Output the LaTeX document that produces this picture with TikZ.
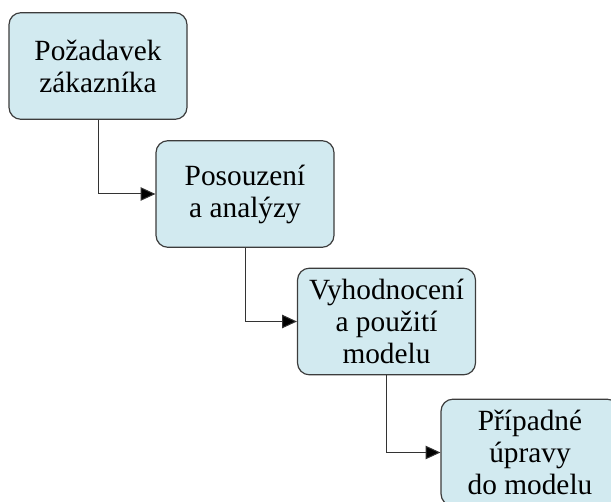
\documentclass[tikz,border=0pt]{standalone}
\usepackage{fontspec}
\setmainfont{Liberation Serif}
\usetikzlibrary{arrows.meta}
\definecolor{stepfill}{RGB}{210,234,240}
\definecolor{stepline}{RGB}{60,60,60}
\begin{document}
\begin{tikzpicture}[x=0.75pt,y=-0.75pt,
  stepbox/.style={draw=stepline,fill=stepfill,line width=0.9pt,rounded corners=9pt,
    minimum width=133.5pt,minimum height=80pt,align=center,inner sep=0pt,
    font=\fontsize{22}{24}\selectfont},
  flow/.style={draw=black!80,line width=0.75pt,-{Triangle[length=11pt,width=10pt,fill=black]}}]
  \useasboundingbox (0,0) rectangle (611,502);
  \begin{scope}
    \clip (0,0) rectangle (611,502);
    \node[stepbox] (req) at (98,66) {Požadavek\\zákazníka};
    \node[stepbox] (ana) at (245,194) {Posouzení\\a analýzy};
    \node[stepbox] (eva) at (386.5,321.5) {Vyhodnocení\\a použití\\modelu};
    \node[stepbox] (fix) at (530,452.5) {Případné\\úpravy\\do modelu};
    \draw[flow] (req.south) |- (ana.west);
    \draw[flow] (ana.south) |- (eva.west);
    \draw[flow] (eva.south) |- (fix.west);
  \end{scope}
\end{tikzpicture}
\end{document}
